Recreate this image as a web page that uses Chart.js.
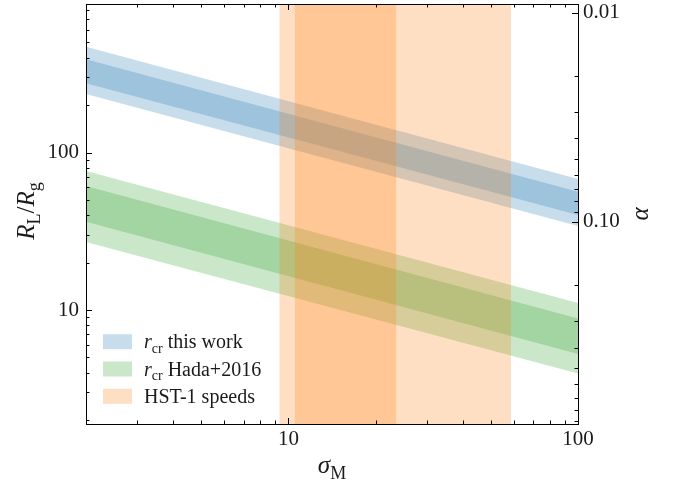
<!DOCTYPE html>
<html>
<head>
<meta charset="utf-8">
<script src="https://cdn.jsdelivr.net/npm/chart.js@4.4.1/dist/chart.umd.min.js"></script>
<style>
  html, body { margin: 0; padding: 0; background: #fff; }
  #wrap { width: 675px; height: 486px; }
</style>
</head>
<body>
<div id="wrap"><canvas id="chart"></canvas></div>
<script>
// sigma_M at the two ends of the plotted range
const sigmaEnds = [2, 100];

// R_L / R_g band edges at sigma = 2 and sigma = 100
const blueOuterHi = [470, 68];
const blueOuterLo = [235, 34.1];
const blueInnerHi = [391, 56.4];
const blueInnerLo = [275, 40.1];

const greenOuterHi = [76.4, 11.1];
const greenOuterLo = [27.0, 3.96];
const greenInnerHi = [61.3, 8.85];
const greenInnerLo = [36.4, 5.26];

// HST-1 speed ranges in sigma_M
const hstOuter = [9.3, 58.7];
const hstInner = [10.5, 23.6];

const xTicks = [10, 100];
const yTicks = [10, 100];
const alphaTicks = [0.01, 0.1];
const alphaTickLabels = ['0.01', '0.10'];

const xRange = [2, 100];
const yRange = [1.89, 877];
const alphaRange = [0.00909, 0.929];

const BLUE = 'rgba(31,119,180,0.25)';
const GREEN = 'rgba(44,160,44,0.25)';
const ORANGE = 'rgba(255,127,14,0.25)';

const legendLabels = [
    [['r', 'i'], ['cr', 's'], [' this work', 'r']],
    [['r', 'i'], ['cr', 's'], [' Hada+2016', 'r']],
    [['HST-1 speeds', 'r']],
];
const legendColors = [BLUE, GREEN, ORANGE];

const xTitle = [['σ', 'i'], ['M', 's']];
const yTitle = [['R', 'i'], ['L', 's'], ['/', 'r'], ['R', 'i'], ['g', 's']];
const y2Title = [['α', 'i']];

const SERIF = '"Liberation Serif", "DejaVu Serif", serif';
const TEXT = '#1a1a1a';

const pts = ys => sigmaEnds.map((x, i) => ({ x: x, y: ys[i] }));

function edge(ys, fill, color, order) {
    return {
        data: pts(ys),
        showLine: true,
        pointRadius: 0,
        borderWidth: 0,
        borderColor: 'transparent',
        backgroundColor: color || 'transparent',
        fill: fill,
        order: order
    };
}

function vband(range, color) {
    return {
        data: [{ x: range[0], y: yRange[1] }, { x: range[1], y: yRange[1] }],
        showLine: true,
        pointRadius: 0,
        borderWidth: 0,
        borderColor: 'transparent',
        backgroundColor: color,
        fill: 'start',
        order: 0
    };
}

const datasets = [
    edge(blueOuterLo, false, null, 2),
    edge(blueOuterHi, 0, BLUE, 2),
    edge(blueInnerLo, false, null, 2),
    edge(blueInnerHi, 2, BLUE, 2),
    edge(greenOuterLo, false, null, 1),
    edge(greenOuterHi, 4, GREEN, 1),
    edge(greenInnerLo, false, null, 1),
    edge(greenInnerHi, 6, GREEN, 1),
    vband(hstOuter, ORANGE),
    vband(hstInner, ORANGE),
];

function fontFor(style, size) {
    if (style === 'i') return 'italic ' + size + 'px ' + SERIF;
    if (style === 's') return Math.round(size * 0.7) + 'px ' + SERIF;
    return size + 'px ' + SERIF;
}

function richWidth(ctx, parts, size) {
    let w = 0;
    parts.forEach(p => {
        ctx.font = fontFor(p[1], size);
        w += ctx.measureText(p[0]).width;
    });
    return w;
}

function drawRich(ctx, parts, x, y, size) {
    ctx.textAlign = 'left';
    ctx.textBaseline = 'alphabetic';
    parts.forEach(p => {
        ctx.font = fontFor(p[1], size);
        const dy = p[1] === 's' ? size * 0.22 : 0;
        ctx.fillText(p[0], x, y + dy);
        x += ctx.measureText(p[0]).width;
    });
}

function logTicks(min, max) {
    const out = [];
    for (let e = Math.floor(Math.log10(min)); e <= Math.ceil(Math.log10(max)); e++) {
        for (let m = 1; m < 10; m++) {
            const v = m * Math.pow(10, e);
            if (v > min * 1.0001 && v < max * 0.9999) out.push({ v: v, major: m === 1 });
        }
    }
    return out;
}

const decor = {
    id: 'decor',
    afterDraw(chart) {
        const { ctx, chartArea: a, scales } = chart;
        ctx.save();
        ctx.strokeStyle = '#000';
        ctx.lineWidth = 1;

        // inward ticks
        ctx.beginPath();
        logTicks(xRange[0], xRange[1]).forEach(t => {
            const px = Math.round(scales.x.getPixelForValue(t.v)) + 0.5;
            const len = t.major ? 6 : 3.5;
            ctx.moveTo(px, a.bottom); ctx.lineTo(px, a.bottom - len);
            ctx.moveTo(px, a.top); ctx.lineTo(px, a.top + len);
        });
        logTicks(yRange[0], yRange[1]).forEach(t => {
            const py = Math.round(scales.y.getPixelForValue(t.v)) + 0.5;
            const len = t.major ? 6 : 3.5;
            ctx.moveTo(a.left, py); ctx.lineTo(a.left + len, py);
        });
        logTicks(alphaRange[0], alphaRange[1]).forEach(t => {
            const py = Math.round(scales.y2.getPixelForValue(t.v)) + 0.5;
            const len = t.major ? 6 : 3.5;
            ctx.moveTo(a.right, py); ctx.lineTo(a.right - len, py);
        });
        ctx.stroke();

        // frame
        ctx.strokeRect(Math.round(a.left) + 0.5, Math.round(a.top) + 0.5,
            Math.round(a.right - a.left), Math.round(a.bottom - a.top));

        // legend
        legendLabels.forEach((parts, i) => {
            const cy = 341.7 + i * 27.3;
            ctx.fillStyle = legendColors[i];
            ctx.fillRect(103, cy - 7.5, 29, 15);
            ctx.fillStyle = TEXT;
            drawRich(ctx, parts, 144, cy + 6.5, 20);
        });

        // axis titles
        const ts = 25;
        const cx = (a.left + a.right) / 2;
        const cyMid = (a.top + a.bottom) / 2;
        drawRich(ctx, xTitle, cx - richWidth(ctx, xTitle, ts) / 2, 473, ts);

        ctx.save();
        ctx.translate(34, cyMid - 3);
        ctx.rotate(-Math.PI / 2);
        drawRich(ctx, yTitle, -richWidth(ctx, yTitle, ts) / 2, 0, ts);
        ctx.restore();

        ctx.save();
        ctx.translate(648, cyMid);
        ctx.rotate(-Math.PI / 2);
        drawRich(ctx, y2Title, -richWidth(ctx, y2Title, ts) / 2, 0, ts);
        ctx.restore();

        ctx.restore();
    }
};

const tickFont = { family: SERIF, size: 21 };

const config = {
    type: 'scatter',
    data: { datasets: datasets },
    options: {
        responsive: true,
        maintainAspectRatio: false,
        animation: false,
        layout: { padding: { top: 4, left: 0, right: 0, bottom: 0 } },
        plugins: {
            legend: { display: false },
            tooltip: { enabled: false }
        },
        scales: {
            x: {
                type: 'logarithmic',
                position: 'bottom',
                min: xRange[0],
                max: xRange[1],
                grid: { display: false, drawTicks: false },
                border: { display: false },
                ticks: { font: tickFont, color: TEXT, padding: 3, maxRotation: 0, autoSkip: false,
                    callback: v => String(v) },
                afterBuildTicks: s => { s.ticks = xTicks.map(v => ({ value: v })); },
                afterFit: s => { s.height = 62; s.paddingLeft = 0; s.paddingRight = 0; }
            },
            y: {
                type: 'logarithmic',
                position: 'left',
                min: yRange[0],
                max: yRange[1],
                grid: { display: false, drawTicks: false },
                border: { display: false },
                ticks: { font: tickFont, color: TEXT, padding: 7, autoSkip: false,
                    callback: v => String(v) },
                afterBuildTicks: s => { s.ticks = yTicks.map(v => ({ value: v })); },
                afterFit: s => { s.width = 86; s.paddingTop = 0; s.paddingBottom = 0; }
            },
            y2: {
                type: 'logarithmic',
                position: 'right',
                reverse: true,
                min: alphaRange[0],
                max: alphaRange[1],
                grid: { display: false, drawTicks: false },
                border: { display: false },
                ticks: { font: tickFont, color: TEXT, padding: 5, autoSkip: false,
                    callback: (v, i) => alphaTickLabels[i] },
                afterBuildTicks: s => { s.ticks = alphaTicks.map(v => ({ value: v })); },
                afterFit: s => { s.width = 97; s.paddingTop = 0; s.paddingBottom = 0; }
            }
        }
    },
    plugins: [decor]
};

const chart = new Chart(document.getElementById('chart'), config);
</script>
</body>
</html>
